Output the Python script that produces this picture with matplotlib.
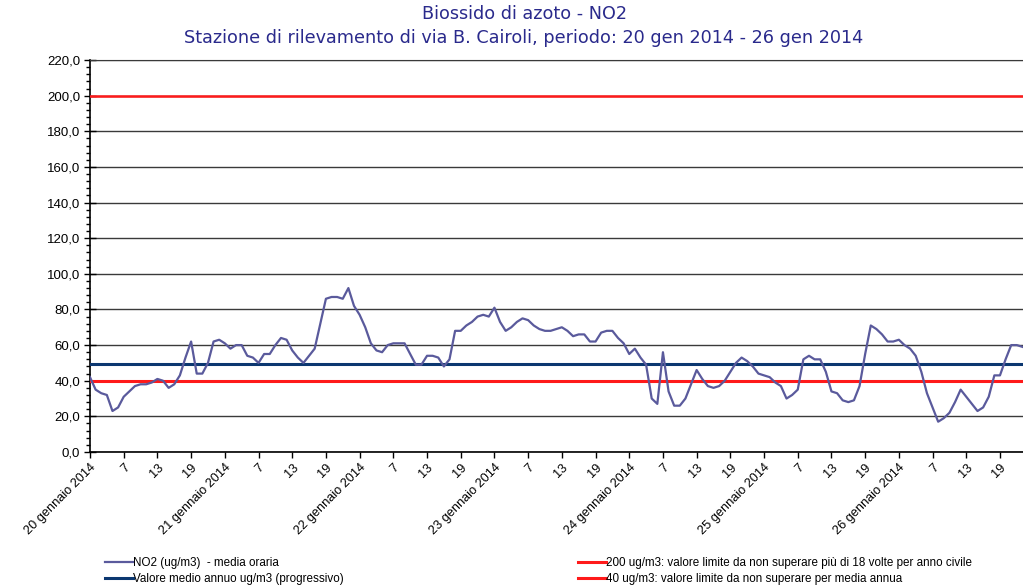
import numpy as np
import matplotlib
matplotlib.use("Agg")
import matplotlib.pyplot as plt
from matplotlib.ticker import MultipleLocator, FuncFormatter

# valori orari NO2 (ug/m3), 20-26 gen 2014
no2 = [42, 35, 33, 32, 23, 25, 31, 34, 37, 38, 38, 39, 41, 40, 36, 38, 43, 53, 62, 44,
       44, 50, 62, 63, 61, 58, 60, 60, 54, 53, 50, 55, 55, 60, 64, 63, 57, 53, 50, 54,
       58, 72, 86, 87, 87, 86, 92, 82, 77, 70, 61, 57, 56, 60, 61, 61, 61, 55, 49, 49,
       54, 54, 53, 48, 52, 68, 68, 71, 73, 76, 77, 76, 81, 73, 68, 70, 73, 75, 74, 71,
       69, 68, 68, 69, 70, 68, 65, 66, 66, 62, 62, 67, 68, 68, 64, 61, 55, 58, 53, 49,
       30, 27, 56, 34, 26, 26, 30, 38, 46, 41, 37, 36, 37, 40, 45, 50, 53, 51, 48, 44,
       43, 42, 39, 37, 30, 32, 35, 52, 54, 52, 52, 45, 34, 33, 29, 28, 29, 37, 55, 71,
       69, 66, 62, 62, 63, 60, 58, 54, 45, 33, 25, 17, 19, 22, 28, 35, 31, 27, 23, 25,
       31, 43, 43, 52, 60, 60, 59, 58]
media_annua = 49.2
limite_orario = 200
limite_annuo = 40

giorni = ["20 gennaio 2014", "21 gennaio 2014", "22 gennaio 2014", "23 gennaio 2014",
          "24 gennaio 2014", "25 gennaio 2014", "26 gennaio 2014"]
ore = ["7", "13", "19"]

fig = plt.figure(figsize=(10.23, 5.88), dpi=100)
ax = fig.add_axes([90/1023, 1-452/588, 1-90/1023, (452-60)/588])

x = np.arange(len(no2))
ax.plot(x, no2, color="#5a5a9c", lw=1.6, zorder=4)
ax.axhline(media_annua, color="#0b3770", lw=2.2, zorder=3)
ax.axhline(limite_orario, color="#ff1a1a", lw=1.8, zorder=3)
ax.axhline(limite_annuo, color="#ff1a1a", lw=2.2, zorder=3)

ax.set_ylim(0, 220)
ax.set_xlim(0, 166.1)
ax.yaxis.set_major_locator(MultipleLocator(20))
ax.yaxis.set_minor_locator(MultipleLocator(4))
ax.yaxis.set_major_formatter(FuncFormatter(lambda v, p: ("%.1f" % v).replace(".", ",")))
ax.grid(axis="y", which="major", color="#3a3a3a", lw=1.0, zorder=1)

pos = list(range(0, 163, 6))
lab = []
for k in pos:
    if k % 24 == 0:
        lab.append(giorni[k // 24])
    else:
        lab.append(ore[(k % 24) // 6 - 1])
ax.set_xticks(pos)
ax.set_xticklabels(lab, rotation=45, ha="right", rotation_mode="anchor",
                   fontsize=9.2, family="Liberation Sans")
ax.tick_params(axis="x", direction="out", length=4, width=1, pad=3)
ax.tick_params(axis="y", which="major", direction="inout", length=8, width=1,
               labelsize=9.5, pad=3)
ax.tick_params(axis="y", which="minor", direction="out", length=3, width=1)
for t in ax.get_yticklabels():
    t.set_family("Liberation Sans")

ax.spines["right"].set_visible(False)
ax.spines["top"].set_color("#3a3a3a")
ax.spines["left"].set_linewidth(1.2)
ax.spines["bottom"].set_linewidth(1.2)

tcol = "#2a2a8c"
fig.text(524/1023, 1-14/588, "Biossido di azoto - NO2", ha="center", va="center",
         fontsize=12.7, color=tcol, family="DejaVu Sans")
fig.text(524/1023, 1-38/588,
         "Stazione di rilevamento di via B. Cairoli, periodo: 20 gen 2014 - 26 gen 2014",
         ha="center", va="center", fontsize=12.7, color=tcol, family="DejaVu Sans")

h1, = ax.plot([], [], color="#5a5a9c", lw=1.6)
h2, = ax.plot([], [], color="#0b3770", lw=2.2)
h3, = ax.plot([], [], color="#ff1a1a", lw=2.2)
h4, = ax.plot([], [], color="#ff1a1a", lw=2.2)
legprops = dict(frameon=False, handlelength=2.4, handletextpad=0.05, labelspacing=0.35,
                borderpad=0, prop={"family": "Liberation Sans", "size": 8.4})
leg1 = fig.legend([h1, h2], ["NO2 (ug/m3)  - media oraria",
                             "Valore medio annuo ug/m3 (progressivo)"],
                  loc="upper left", bbox_to_anchor=(99/1023, 1-551/588), **legprops)
leg2 = fig.legend([h3, h4], ["200 ug/m3: valore limite da non superare più di 18 volte per anno civile",
                             "40 ug/m3: valore limite da non superare per media annua"],
                  loc="upper left", bbox_to_anchor=(572/1023, 1-551/588), **legprops)

fig.savefig("out.png", dpi=100)
